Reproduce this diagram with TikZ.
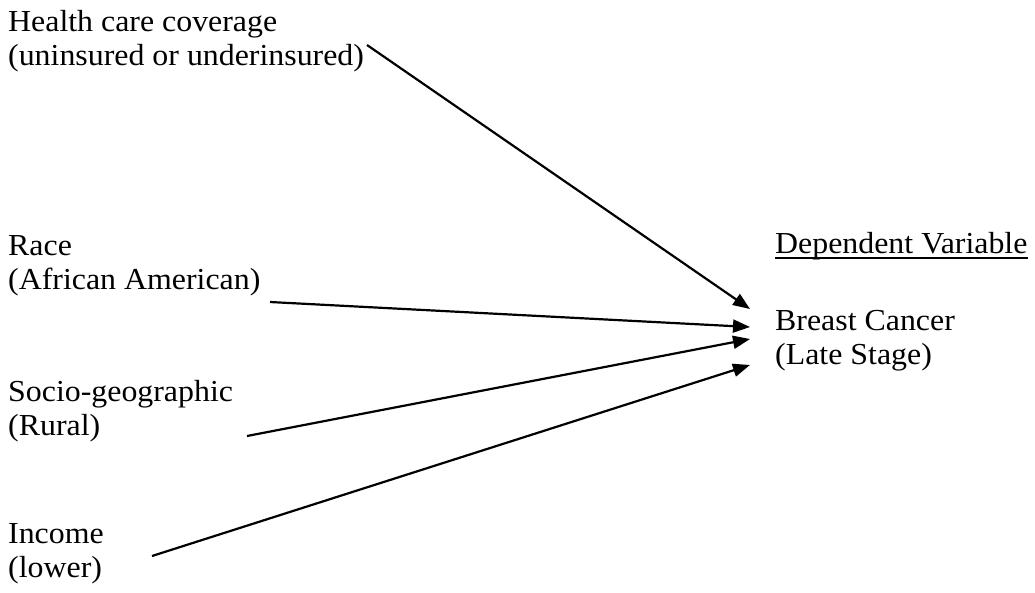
\documentclass[tikz,border=0pt]{standalone}
\usepackage{fontspec}
\setmainfont[FakeStretch=1.045]{Liberation Serif}
\usetikzlibrary{arrows.meta}
\begin{document}
\begin{tikzpicture}[x=1pt,y=-1pt,
  lbl/.style={anchor=base west,inner sep=0pt,align=left,font=\fontsize{30.5}{33.5}\selectfont},
  arr/.style={line width=2.2pt,-{Triangle[length=17pt,width=13pt]}}]
\useasboundingbox[fill=white] (0,0) rectangle (1035,592);

% base anchor = baseline of the last line
\node[lbl] (health) at (8,65) {Health care coverage\\(uninsured or underinsured)};
\node[lbl] (race) at (8,289) {Race\\(African American)};
\node[lbl] (socio) at (8,435) {Socio-geographic\\(Rural)};
\node[lbl] (income) at (8,577) {Income\\(lower)};
\node[lbl] (dv) at (775,253) {Dependent Variable};
\node[lbl] (bc) at (775,364) {Breast Cancer\\(Late Stage)};
\draw[line width=1.5pt] ([yshift=-5pt]dv.base west) -- ([yshift=-5pt]dv.base east);

\coordinate (hs) at (367,45);
\coordinate (rs) at (270,302);
\coordinate (ss) at (247,436);
\coordinate (is) at (152,556);
\coordinate (t1) at (750,309);
\coordinate (t2) at (750,327);
\coordinate (t3) at (750,339);
\coordinate (t4) at (750,365);

\draw[arr] (hs) -- (t1);
\draw[arr] (rs) -- (t2);
\draw[arr] (ss) -- (t3);
\draw[arr] (is) -- (t4);
\end{tikzpicture}
\end{document}
